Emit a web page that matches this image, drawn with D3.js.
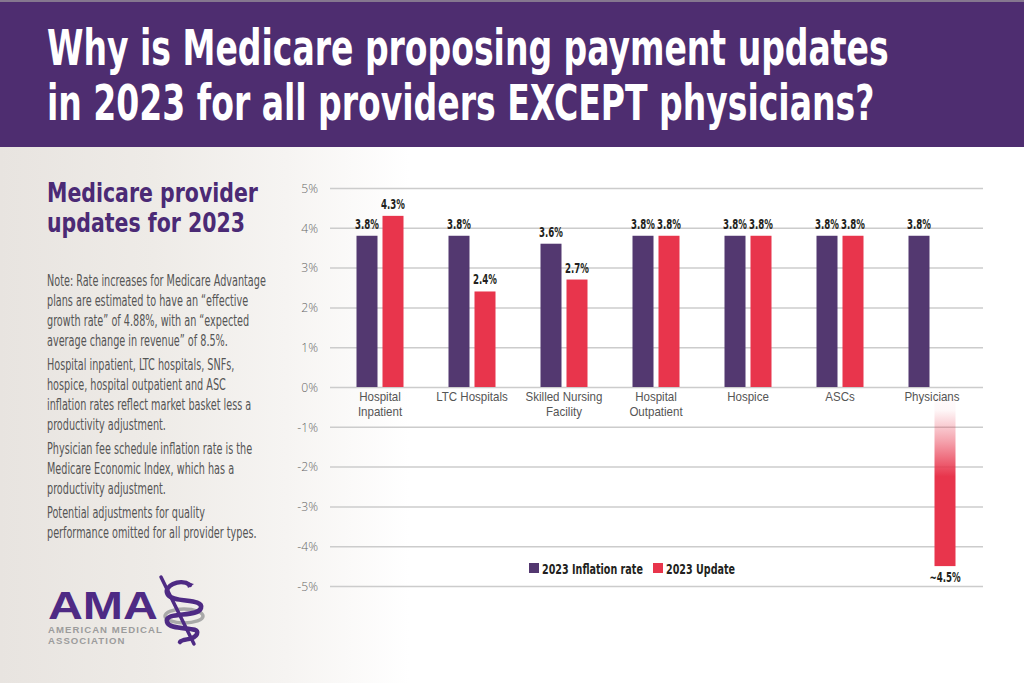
<!DOCTYPE html>
<html><head><meta charset="utf-8">
<script src="https://cdn.jsdelivr.net/npm/d3@7"></script>
<style>html,body{margin:0;padding:0;background:#fff;overflow:hidden}svg{display:block}</style>
</head><body>
<svg id="c" width="1024" height="683"></svg>
<script>
// ---------- data ----------
const titleLines = ["Why is Medicare proposing payment updates", "in 2023 for all providers EXCEPT physicians?"];
const subtitleLines = ["Medicare provider", "updates for 2023"];
const noteParagraphs = [
  ["Note: Rate increases for Medicare Advantage", "plans are estimated to have an \u201ceffective", "growth rate\u201d of 4.88%, with an \u201cexpected", "average change in revenue\u201d of 8.5%."],
  ["Hospital inpatient, LTC hospitals, SNFs,", "hospice, hospital outpatient and ASC", "inflation rates reflect market basket less a", "productivity adjustment."],
  ["Physician fee schedule inflation rate is the", "Medicare Economic Index, which has a", "productivity adjustment."],
  ["Potential adjustments for quality", "performance omitted for all provider types."]
];
const categories = ["Hospital|Inpatient", "LTC Hospitals", "Skilled Nursing|Facility", "Hospital|Outpatient", "Hospice", "ASCs", "Physicians"];
const seriesNames = ["2023 Inflation rate", "2023 Update"];
const inflationRate = [3.8, 3.8, 3.6, 3.8, 3.8, 3.8, 3.8];
const updateRate = [4.3, 2.4, 2.7, 3.8, 3.8, 3.8, -4.5];
const inflationLabels = ["3.8%", "3.8%", "3.6%", "3.8%", "3.8%", "3.8%", "3.8%"];
const updateLabels = ["4.3%", "2.4%", "2.7%", "3.8%", "3.8%", "3.8%", "~4.5%"];
const yTicks = [5, 4, 3, 2, 1, 0, -1, -2, -3, -4, -5];
const logoLines = ["AMERICAN MEDICAL", "ASSOCIATION"];

// ---------- styles ----------
const COND = '"Liberation Sans Narrow","DejaVu Sans Condensed","Roboto Condensed","Liberation Sans",sans-serif';
const LIGHT = '"Open Sans","Noto Sans","Liberation Sans",sans-serif';
const PURPLE = "#533870", RED = "#e8354c", HEADER = "#4e2d70", INK = "#231f20";
const colors = [PURPLE, RED];

const svg = d3.select("#c");
// horizontally condense text around its anchor x, using a transform
function fitTo(sel, factor) {
  sel.each(function () {
    const x = +(this.getAttribute("x") || 0);
    const prev = this.getAttribute("transform") || "";
    d3.select(this).attr("transform", `${prev} translate(${x},0) scale(${factor},1) translate(${-x},0)`);
  });
}
function factorFor(node, target) { return target / node.getComputedTextLength(); }

// ---------- background ----------
const defs = svg.append("defs");
const bg = defs.append("linearGradient").attr("id", "bg").attr("x1", 0).attr("x2", 1).attr("y1", 0).attr("y2", 0);
[[0, "#e8e4e0"], [0.15, "#eeebe7"], [0.28, "#f6f4f2"], [0.4, "#ffffff"], [1, "#ffffff"]]
  .forEach(([o, c]) => bg.append("stop").attr("offset", o).attr("stop-color", c));
svg.append("rect").attr("width", 1024).attr("height", 683).attr("fill", "url(#bg)");
svg.append("rect").attr("width", 1024).attr("height", 147).attr("fill", HEADER);
svg.append("rect").attr("width", 1024).attr("height", 2).attr("fill", "#85778f");

// ---------- title ----------
const title = svg.append("g").selectAll("text").data(titleLines).join("text")
  .attr("x", 47).attr("y", (d, i) => 65 + i * 55)
  .attr("fill", "#fff").attr("font-family", COND).attr("font-weight", 700).attr("font-size", 50)
  .text(d => d);
fitTo(title, factorFor(title.nodes()[0], 842));

// ---------- subtitle ----------
const sub = svg.append("g").selectAll("text").data(subtitleLines).join("text")
  .attr("x", 47).attr("y", (d, i) => 202 + i * 30.5)
  .attr("fill", "#4b2a75").attr("font-family", COND).attr("font-weight", 700).attr("font-size", 26)
  .text(d => d);
fitTo(sub, factorFor(sub.nodes()[0], 211));

// ---------- notes ----------
const noteLines = [];
let yy = 286;
noteParagraphs.forEach((p, pi) => {
  if (pi > 0) yy += 4;
  p.forEach(l => { noteLines.push({ t: l, y: yy }); yy += 20; });
});
const notes = svg.append("g").selectAll("text").data(noteLines).join("text")
  .attr("x", 47).attr("y", d => d.y)
  .attr("fill", "#555").attr("font-family", COND).attr("font-size", 16)
  .text(d => d.t);
fitTo(notes, factorFor(notes.nodes()[0], 219));

// ---------- chart ----------
const y = d3.scaleLinear().domain([-5, 5]).range([586, 188]);
const x0 = d3.scaleBand().domain(categories).range([334, 978]);
const half = x0.bandwidth() / 2;
const x1 = d3.scaleBand().domain(seriesNames).range([half - 23.5, half + 23.5]).paddingInner(0.1923);

const axis = svg.append("g").attr("transform", "translate(330,0)")
  .call(d3.axisLeft(y).tickValues(yTicks).tickFormat(d => d + "%").tickSize(-653).tickPadding(12));
axis.select(".domain").remove();
axis.selectAll(".tick line").attr("stroke", "#cccccc").attr("stroke-width", 1.5);
const tickText = axis.selectAll(".tick text").attr("fill", "#666").attr("font-family", LIGHT)
  .attr("font-weight", 300).attr("font-size", 13.5);
fitTo(tickText, 0.9);

// gradient for physicians update bar
const gr = defs.append("linearGradient").attr("id", "fade").attr("x1", 0).attr("x2", 0).attr("y1", 0).attr("y2", 1);
[[0, 0], [0.13, 0.04], [0.3, 0.45], [0.5, 1], [1, 1]]
  .forEach(([o, a]) => gr.append("stop").attr("offset", o).attr("stop-color", RED).attr("stop-opacity", a));

const rows = categories.map((c, i) => ({
  cat: c,
  vals: [
    { s: seriesNames[0], v: inflationRate[i], lab: inflationLabels[i] },
    { s: seriesNames[1], v: updateRate[i], lab: updateLabels[i] }
  ]
}));

const groups = svg.append("g").selectAll("g").data(rows).join("g")
  .attr("transform", d => `translate(${x0(d.cat)},0)`);

groups.selectAll("rect").data(d => d.vals).join("rect")
  .attr("x", d => x1(d.s)).attr("width", x1.bandwidth())
  .attr("y", d => y(Math.max(0, d.v))).attr("height", d => Math.abs(y(d.v) - y(0)))
  .attr("fill", (d, i) => d.v < 0 ? "url(#fade)" : colors[i]);

const valTexts = groups.selectAll("text.val").data(d => d.vals).join("text").attr("class", "val")
  .attr("x", d => x1(d.s) + x1.bandwidth() / 2)
  .attr("y", d => d.v >= 0 ? y(d.v) - 7 : y(d.v) + 16)
  .attr("text-anchor", "middle").attr("fill", INK)
  .attr("font-family", COND).attr("font-weight", 700).attr("font-size", 14.5)
  .text(d => d.lab);
fitTo(valTexts, factorFor(valTexts.nodes()[0], 24));

// category labels: one text element per line
const catLines = groups.selectAll("text.cat").data(d => d.cat.split("|").map((t, i) => ({ t, i }))).join("text")
  .attr("class", "cat").attr("x", half).attr("y", d => 401 + d.i * 15)
  .attr("text-anchor", "middle").attr("fill", "#555")
  .attr("font-family", '"Liberation Sans",Arial,sans-serif').attr("font-size", 12.5)
  .text(d => d.t);
const refNode = catLines.filter(d => d.t === "Skilled Nursing").node();
fitTo(catLines, factorFor(refNode, 77));

// ---------- legend ----------
const legend = svg.append("g");
const legX = [529, 653];
const lg = legend.selectAll("g").data(seriesNames).join("g")
  .attr("transform", (d, i) => `translate(${legX[i]},563)`);
lg.append("rect").attr("width", 10).attr("height", 10).attr("fill", (d, i) => colors[i]);
const legT = lg.append("text").attr("x", 13).attr("y", 11).attr("fill", INK)
  .attr("font-family", COND).attr("font-weight", 700).attr("font-size", 14.5).text(d => d);
fitTo(legT, factorFor(legT.nodes()[0], 101));

// ---------- AMA logo ----------
const logo = svg.append("g");
const ama = logo.append("text").attr("x", 48).attr("y", 619).attr("fill", "#4e2a84")
  .attr("font-family", '"Liberation Sans",Arial,sans-serif').attr("font-weight", 700).attr("font-size", 38)
  .text("AMA");
fitTo(ama, 110 / ama.node().getComputedTextLength());
const sm = logo.selectAll("text.sm").data(logoLines).join("text").attr("class", "sm")
  .attr("x", 48).attr("y", (d, i) => 633 + i * 11.5).attr("fill", "#9c9c9c")
  .attr("font-family", '"Liberation Sans",Arial,sans-serif').attr("font-weight", 700).attr("font-size", 9)
  .attr("letter-spacing", 1).text(d => d);
fitTo(sm, 115 / sm.nodes()[0].getComputedTextLength());
// caduceus-like symbol
logo.append("ellipse").attr("cx", 184).attr("cy", 616).attr("rx", 19).attr("ry", 7)
  .attr("fill", "none").attr("stroke", "#a9a9a9").attr("stroke-width", 3.5);
logo.append("line").attr("x1", 161).attr("y1", 577).attr("x2", 194).attr("y2", 644)
  .attr("stroke", "#4e2a84").attr("stroke-width", 3.5).attr("stroke-linecap", "round");
logo.append("path")
  .attr("d", "M190,585 C180,578 162,586 168,595 C174,603 204,598 201,608 C198,618 164,611 167,622 C170,632 201,625 197,634 C194,641 183,638 180,642")
  .attr("fill", "none").attr("stroke", "#4e2a84").attr("stroke-width", 4.5).attr("stroke-linecap", "round");
logo.append("path").attr("d", "M186,582 l8,2 l-6,4 z").attr("fill", "#4e2a84");
</script>
</body></html>
